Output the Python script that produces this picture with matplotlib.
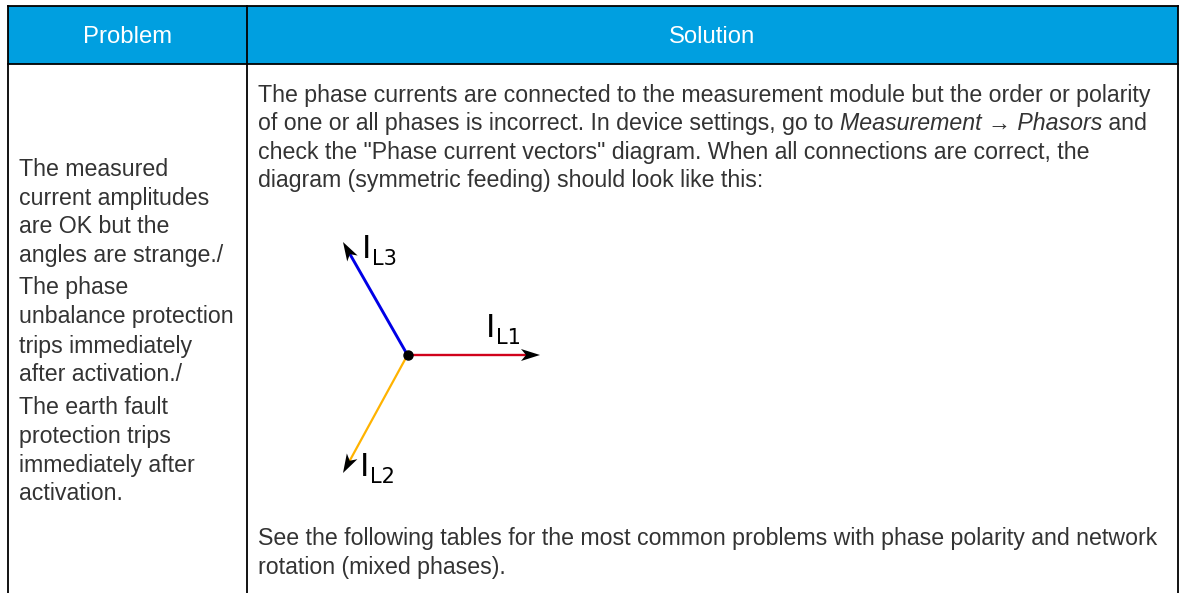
import matplotlib
matplotlib.use("Agg")
import matplotlib.pyplot as plt
from matplotlib.patches import Rectangle, Polygon
import numpy as np

## donnees du tableau
headers = ["Problem", "Solution"]
problem_lines = ["The measured", "current amplitudes", "are OK but the", "angles are strange./",
                 "The phase", "unbalance protection", "trips immediately", "after activation./",
                 "The earth fault", "protection trips", "immediately after", "activation."]
problem_y = [176, 205, 233, 262, 294, 323, 353, 381, 414, 443, 472, 500]

# chaque ligne = liste de morceaux (texte, italique)
solution_lines = [
    [("The phase currents are connected to the measurement module but the order or polarity", False)],
    [("of one or all phases is incorrect. In device settings, go to ", False), ("Measurement \u2192 Phasors", True), (" and", False)],
    [("check the \"Phase current vectors\" diagram. When all connections are correct, the", False)],
    [("diagram (symmetric feeding) should look like this:", False)],
]
solution_y = [102, 130, 159, 187]
footer_lines = ["See the following tables for the most common problems with phase polarity and network",
                "rotation (mixed phases)."]
footer_y = [545, 574]

## diagramme des phaseurs
center = (407.5, 355)
phasor_names = ["L1", "L2", "L3"]
phasor_tips = [(540, 355), (343, 473), (343, 242)]
phasor_colors = ["#d0021b", "#ffb300", "#0000e6"]
phasor_widths = [1.7, 1.6, 2.1]
phasor_labels = [(485.5, 337), (360, 476), (362, 258)]

blue = "#009fe0"
txt = "#333333"
font = ["Liberation Sans", "DejaVu Sans"]
size = 16.65
head_size = 17.2

fig = plt.figure(figsize=(11.82, 5.93), dpi=100)
ax = fig.add_axes([0, 0, 1, 1])
ax.set_xlim(0, 1182)
ax.set_ylim(593, 0)
ax.axis("off")

# entete
x0, x1, x2 = 7.5, 247, 1177.5
ytop, yhead = 5.5, 63.5
ax.add_patch(Rectangle((x0, ytop), x2 - x0, yhead - ytop, fc=blue, ec="none"))
ax.plot([x0, x2], [ytop, ytop], color="black", lw=1.3)
ax.plot([x0, x2], [yhead, yhead], color="black", lw=1.3)
for x in [x0, x1, x2]:
    ax.plot([x, x], [ytop, 593], color="black", lw=1.3)

ax.text((x0 + x1) / 2, 43, headers[0], color="white", family=font,
        size=head_size, ha="center", va="baseline")
ax.text((x1 + x2) / 2, 43, headers[1], color="white", family=font,
        size=head_size, ha="center", va="baseline")

# colonne gauche
for s, y in zip(problem_lines, problem_y):
    ax.text(19, y, s, color=txt, family=font, size=size, va="baseline")

# colonne droite, morceaux mis bout a bout
fig.canvas.draw()
rend = fig.canvas.get_renderer()
for parts, y in zip(solution_lines, solution_y):
    x = 258
    for s, ital in parts:
        # les espaces de bord ne comptent pas dans le bbox : on mesure avec un point
        t = ax.text(x, y, s, color=txt, family=font, size=size, va="baseline",
                    style="italic" if ital else "normal")
        m = ax.text(0, 0, s + ".", family=font, size=size,
                    style="italic" if ital else "normal")
        d = ax.text(0, 0, ".", family=font, size=size)
        x += m.get_window_extent(rend).width - d.get_window_extent(rend).width
        m.remove()
        d.remove()
for s, y in zip(footer_lines, footer_y):
    ax.text(258, y, s, color=txt, family=font, size=size, va="baseline")

# phaseurs
for tip, col, w, name, lab in zip(phasor_tips, phasor_colors, phasor_widths, phasor_names, phasor_labels):
    d = np.array(tip) - np.array(center)
    d = d / np.hypot(*d)
    n = np.array([-d[1], d[0]])
    tipa = np.array(tip)
    ax.plot([center[0], tipa[0] - 10 * d[0]], [center[1], tipa[1] - 10 * d[1]], color=col, lw=w,
            solid_capstyle="butt")
    ax.add_patch(Polygon([tipa, tipa - 19 * d + 6 * n, tipa - 14 * d, tipa - 19 * d - 6 * n],
                         fc="black", ec="none", zorder=4))
    ax.text(lab[0], lab[1], "I", family="DejaVu Sans", size=23, color="black", va="baseline")
    ax.text(lab[0] + 10, lab[1] + 7, name, family="DejaVu Sans", size=15, color="black", va="baseline")
ax.plot([center[0]], [center[1]], "o", color="black", ms=6.5, zorder=5)

fig.savefig("out.png", dpi=100)
